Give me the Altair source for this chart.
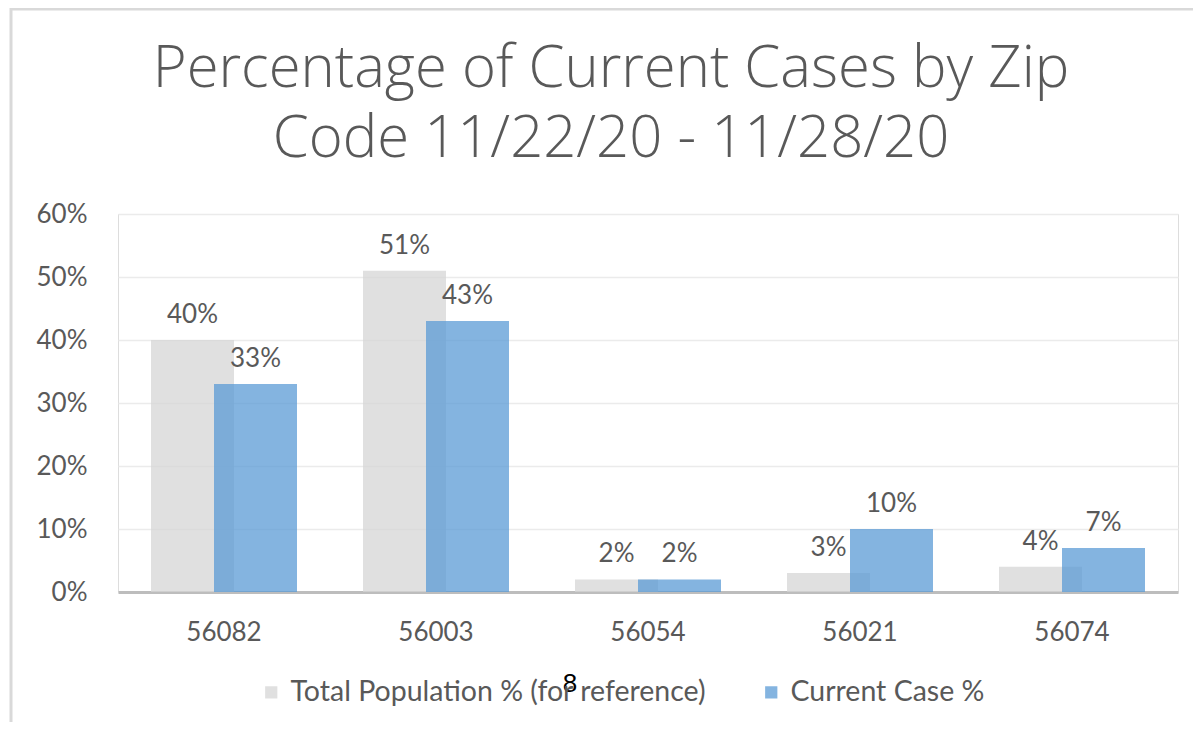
import altair as alt
import pandas as pd

zips = ["56082", "56003", "56054", "56021", "56074"]
population_pct = [0.40, 0.51, 0.02, 0.03, 0.04]
case_pct = [0.33, 0.43, 0.02, 0.10, 0.07]
series_names = ["Total Population % (for reference)", "Current Case %"]
series_colors = ["#d6d6d6", "#5b9bd5"]
y_ticks = [0, 0.1, 0.2, 0.3, 0.4, 0.5, 0.6]
title_lines = ["Percentage of Current Cases by Zip", "Code 11/22/20 - 11/28/20"]
page_mark = ["8"]

rows = []
for z, p, c in zip(zips, population_pct, case_pct):
    rows.append({"zip": z, "series": series_names[0], "value": p})
    rows.append({"zip": z, "series": series_names[1], "value": c})
df = pd.DataFrame(rows)

FONT = "Lato"
TXT = "#595959"
BAR_W = 83
OFF = 31.5

x_enc = alt.X("zip:N", sort=zips, title=None,
              scale=alt.Scale(paddingInner=0, paddingOuter=0),
              axis=alt.Axis(labelAngle=0, labelFontSize=26, labelColor=TXT, labelFont=FONT,
                            labelPadding=27, ticks=False, domainColor="#bdbdbd", domainWidth=3,
                            grid=False))
y_enc = alt.Y("value:Q", title=None,
              scale=alt.Scale(domain=[0, 0.6], nice=False),
              axis=alt.Axis(values=y_ticks, format=".0%", labelFontSize=26, labelColor=TXT,
                            labelFont=FONT, labelPadding=31, ticks=False, domain=False,
                            gridColor="#ebebeb", gridWidth=1.5))
color_enc = alt.Color("series:N", title=None,
                      scale=alt.Scale(domain=series_names, range=series_colors),
                      legend=alt.Legend(orient="none", legendX=139, legendY=464,
                                        direction="horizontal",
                                        symbolType="square", symbolSize=150,
                                        symbolStrokeWidth=0, symbolOpacity=0.75,
                                        labelFontSize=28.5, labelFont=FONT, labelColor=TXT,
                                        labelOffset=5,
                                        columnPadding=50, labelLimit=700))

base = alt.Chart(df)

grey = base.transform_filter(alt.datum.series == series_names[0]).mark_bar(
    width=BAR_W, xOffset=-OFF, opacity=0.75).encode(x=x_enc, y=y_enc, color=color_enc)
blue = base.transform_filter(alt.datum.series == series_names[1]).mark_bar(
    width=BAR_W, xOffset=OFF, opacity=0.75).encode(x=x_enc, y=y_enc, color=color_enc)

grey_lbl = base.transform_filter(alt.datum.series == series_names[0]).mark_text(
    xOffset=-OFF, dy=-12, baseline="bottom", fontSize=26, font=FONT, color=TXT).encode(
    x=alt.X("zip:N", sort=zips), y="value:Q", text=alt.Text("value:Q", format=".0%"))
blue_lbl = base.transform_filter(alt.datum.series == series_names[1]).mark_text(
    xOffset=OFF, dy=-12, baseline="bottom", fontSize=26, font=FONT, color=TXT).encode(
    x=alt.X("zip:N", sort=zips), y="value:Q", text=alt.Text("value:Q", format=".0%"))

page_df = pd.DataFrame({"t": page_mark})
page_num = alt.Chart(page_df).mark_text(fontSize=26, font="Liberation Sans", color="#000000",
                                        baseline="alphabetic").encode(
    x=alt.value(452), y=alt.value(478), text="t:N")

title_mark = alt.Chart(page_df).mark_text(
    text=title_lines, fontSize=58, font="Open Sans", fontWeight=300, color=TXT,
    lineHeight=70, align="center", baseline="alphabetic").encode(
    x=alt.value(493), y=alt.value(-127))

border_left = alt.Chart(page_df).mark_rule(color="#d9d9d9", strokeWidth=3).encode(
    x=alt.value(-107), y=alt.value(-206), y2=alt.value(530))
border_top = alt.Chart(page_df).mark_rule(color="#d9d9d9", strokeWidth=3).encode(
    x=alt.value(-107), x2=alt.value(1075), y=alt.value(-205))

chart = alt.layer(border_left, border_top, grey, blue, grey_lbl, blue_lbl, title_mark,
                  page_num).properties(
    width=1060, height=378,
    padding={"left": 110, "top": 206, "right": 15, "bottom": 130},
    autosize=alt.AutoSizeParams(type="none"),
).configure_view(stroke=None).configure(background="white")

chart.save("out.html", embed_options={"renderer": "svg", "actions": False})
